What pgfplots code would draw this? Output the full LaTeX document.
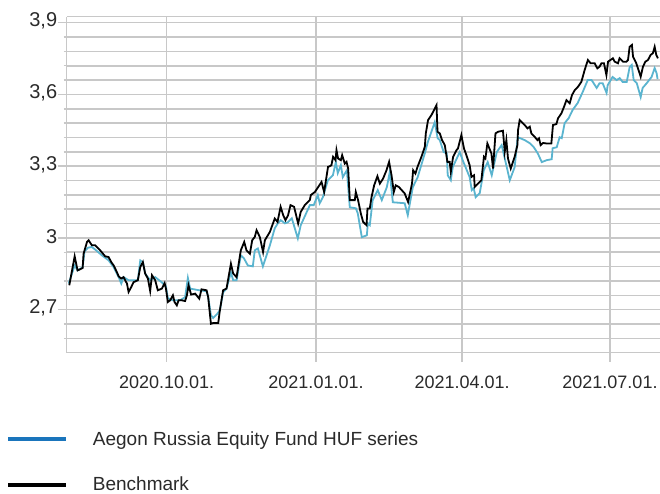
\documentclass[border=0pt]{standalone}
\usepackage{fontspec}
\setmainfont{Liberation Sans}
\usepackage{pgfplots}
\pgfplotsset{compat=1.18}
\definecolor{gridgray}{HTML}{C8C8C8}
\definecolor{fundblue}{HTML}{5AB4CF}
\definecolor{legblue}{HTML}{1A75BC}
\definecolor{txt}{HTML}{2A2A2A}
\begin{document}
\begin{tikzpicture}[x=1pt,y=1pt]
\useasboundingbox (-66.7,-141.3) rectangle (593.3,352.7);
\begin{axis}[
  at={(0,0)}, anchor=south west,
  scale only axis, width=593.3pt, height=336pt,
  xmin=-61.5, xmax=303.8, ymin=2.52, ymax=3.925,
  axis x line=box, axis y line=left,
  axis line style={draw=gridgray, line width=1.6pt, -},
  xtick pos=left, ytick pos=left,
  tick align=outside,
  major tick length=9pt, minor tick length=3pt,
  tick style={draw=gridgray, line width=1.5pt},
  xtick={0,92,182,273},
  xticklabels={2020.10.01.,2021.01.01.,2021.04.01.,2021.07.01.},
  ytick={2.7,3,3.3,3.6,3.9},
  minor ytick={2.58,2.64,2.76,2.82,2.88,2.94,3.06,3.12,3.18,3.24,3.36,3.42,3.48,3.54,3.66,3.72,3.78,3.84},
  xmajorgrids, ymajorgrids, yminorgrids,
  major grid style={draw=gridgray, line width=1.6pt},
  minor grid style={draw=gridgray, line width=1.6pt},
  /pgf/number format/.cd, use comma, fixed, assume math mode=true, /pgfplots/.cd,
  yticklabel style={font=\fontsize{20}{24}\selectfont, text=txt, xshift=3pt, yshift=1.5pt},
  xticklabel style={font=\fontsize{18}{22}\selectfont, text=txt, yshift=-11pt},
  legend image code/.code={\draw[#1] (0pt,0pt) -- (57.4pt,0pt);},
  legend cell align=left,
  legend style={at={(axis description cs:-0.1018,-0.2345)}, anchor=north west,
    draw=none, fill=none, inner sep=0pt, row sep=30pt,
    font=\fontsize{19}{23}\selectfont, text=txt,
    nodes={inner sep=0pt},
    /tikz/every odd column/.append style={column sep=25pt}},
]
\addlegendimage{legblue, line width=4pt}
\addlegendentry{Aegon Russia Equity Fund HUF series}
\addlegendimage{black, line width=4pt}
\addlegendentry{Benchmark}

\addplot[fundblue, line width=1.8pt, forget plot] coordinates {
(-60.3,2.809)(-56.6,2.885)(-54.8,2.864)(-51.7,2.877)(-50.5,2.944)(-48.4,2.959)
(-46.0,2.962)(-43.9,2.951)(-39.8,2.927)(-35.7,2.906)(-32.6,2.878)(-29.5,2.836)
(-27.9,2.809)(-26.5,2.836)(-23.4,2.823)(-17.7,2.823)(-16.2,2.906)(-14.6,2.899)
(-13.2,2.851)(-10.1,2.823)(-7.0,2.836)(-2.9,2.814)(-0.4,2.797)(0.8,2.748)
(3.9,2.739)(8.2,2.739)(11.4,2.752)(13.1,2.833)(14.5,2.788)(20.1,2.781)
(24.6,2.777)(25.6,2.753)(27.3,2.677)(28.7,2.665)(31.0,2.681)(32.8,2.697)
(34.8,2.772)(36.9,2.788)(39.6,2.856)(41.0,2.823)(43.1,2.823)(45.7,2.927)
(47.6,2.915)(50.0,2.885)(53.1,2.881)(54.3,2.948)(56.2,2.956)(59.3,2.881)
(63.6,2.969)(66.6,3.040)(68.5,3.061)(70.3,3.074)(72.8,3.061)(74.6,3.065)
(77.1,3.082)(80.8,2.998)(82.6,3.053)(88.2,3.137)(90.6,3.137)(93.1,3.179)
(94.3,3.145)(96.2,3.170)(99.3,3.241)(102.4,3.262)(104.2,3.317)(105.4,3.271)
(107.3,3.304)(108.5,3.254)(111.0,3.283)(112.8,3.128)(116.5,3.124)(117.7,3.103)
(120.2,3.003)(123.3,3.011)(123.9,3.061)(125.1,3.053)(126.9,3.158)(130.0,3.200)
(132.5,3.158)(135.6,3.212)(137.4,3.275)(139.3,3.149)(146.6,3.145)(148.5,3.095)
(151.6,3.212)(154.6,3.254)(159.0,3.354)(160.8,3.400)(165.1,3.484)(166.9,3.417)
(168.2,3.409)(170.6,3.359)(172.5,3.354)(173.1,3.262)(175.0,3.241)(176.2,3.296)
(180.5,3.359)(182.3,3.325)(186.6,3.254)(187.9,3.200)(189.1,3.208)(190.3,3.170)
(192.8,3.187)(195.3,3.283)(197.7,3.317)(200.2,3.262)(203.3,3.359)(206.3,3.388)
(208.2,3.333)(211.3,3.241)(214.3,3.296)(216.2,3.421)(220.5,3.409)(223.6,3.396)
(226.1,3.379)(228.5,3.354)(231.0,3.317)(234.0,3.325)(237.1,3.329)(237.7,3.375)
(240.2,3.379)(242.0,3.421)(243.3,3.417)(245.1,3.480)(247.6,3.501)(250.0,3.535)
(253.1,3.564)(256.2,3.610)(259.3,3.660)(261.7,3.660)(264.8,3.627)(266.6,3.647)
(268.5,3.647)(270.9,3.606)(271.6,3.639)(274.6,3.673)(277.1,3.660)(279.0,3.668)
(280.8,3.652)(283.3,3.652)(285.1,3.714)(286.4,3.723)(287.6,3.660)(289.5,3.647)
(291.9,3.589)(293.1,3.627)(295.6,3.647)(298.6,3.673)(300.5,3.710)(301.7,3.689)
(302.3,3.664)
};

\addplot[black, line width=1.8pt, forget plot] coordinates {
(-59.9,2.802)(-56.6,2.923)(-54.8,2.864)(-51.7,2.874)(-51.1,2.934)(-49.0,2.983)
(-48.0,2.990)(-46.0,2.969)(-43.9,2.969)(-40.9,2.948)(-37.8,2.923)(-35.7,2.920)
(-34.1,2.899)(-32.6,2.885)(-30.6,2.857)(-29.5,2.839)(-27.9,2.830)(-26.5,2.836)
(-24.4,2.809)(-23.4,2.774)(-21.8,2.794)(-20.3,2.815)(-17.7,2.823)(-16.2,2.878)
(-14.6,2.899)(-13.2,2.851)(-11.5,2.830)(-10.1,2.778)(-9.0,2.844)(-7.0,2.823)
(-5.4,2.781)(-2.9,2.788)(-1.2,2.811)(-0.4,2.788)(0.8,2.732)(2.2,2.739)
(3.9,2.760)(4.9,2.732)(6.3,2.718)(7.4,2.739)(9.4,2.739)(11.4,2.736)
(12.5,2.760)(13.5,2.802)(15.1,2.763)(17.6,2.767)(20.1,2.746)(21.5,2.785)
(24.6,2.781)(25.6,2.753)(27.3,2.641)(28.7,2.644)(31.8,2.644)(32.8,2.697)
(34.8,2.781)(36.9,2.788)(39.6,2.892)(41.0,2.851)(43.1,2.836)(45.7,2.948)
(47.8,2.983)(49.2,2.948)(51.3,2.934)(52.7,2.990)(54.3,3.004)(55.4,3.032)
(57.4,3.004)(59.4,2.941)(60.5,2.990)(63.6,3.025)(66.6,3.081)(68.3,3.067)
(70.2,3.130)(71.8,3.095)(73.2,3.074)(74.8,3.095)(76.3,3.137)(78.5,3.130)
(81.0,3.060)(82.6,3.109)(85.1,3.137)(88.2,3.158)(88.8,3.179)(91.3,3.192)
(95.4,3.234)(97.0,3.192)(99.4,3.297)(100.5,3.300)(101.5,3.304)(102.5,3.339)
(104.0,3.325)(104.6,3.367)(105.6,3.332)(107.3,3.325)(108.1,3.346)(109.7,3.311)
(110.8,3.318)(111.8,3.290)(112.8,3.158)(115.9,3.158)(116.5,3.192)(117.9,3.158)
(119.6,3.102)(121.0,3.067)(123.1,3.053)(123.7,3.123)(125.1,3.123)(126.2,3.171)
(127.8,3.220)(129.8,3.258)(131.3,3.227)(133.3,3.248)(135.4,3.283)(137.0,3.318)
(138.5,3.262)(139.9,3.192)(141.1,3.220)(143.0,3.213)(146.6,3.186)(148.7,3.150)
(151.1,3.227)(151.8,3.283)(153.2,3.269)(154.5,3.297)(156.9,3.339)(159.0,3.381)
(159.6,3.437)(161.0,3.493)(163.1,3.514)(166.2,3.555)(166.8,3.444)(168.2,3.437)
(169.6,3.409)(171.3,3.388)(172.9,3.318)(174.3,3.318)(175.0,3.276)(176.4,3.339)
(178.5,3.367)(179.4,3.374)(181.5,3.430)(183.1,3.374)(184.6,3.346)(186.6,3.304)
(187.7,3.255)(189.3,3.262)(189.7,3.213)(191.8,3.227)(193.8,3.241)(195.4,3.339)
(196.3,3.332)(197.5,3.395)(200.0,3.353)(201.0,3.290)(202.5,3.437)(204.1,3.444)
(207.1,3.448)(208.2,3.360)(209.2,3.409)(210.2,3.332)(211.9,3.290)(214.3,3.339)
(216.0,3.388)(216.4,3.451)(217.4,3.493)(220.5,3.472)(222.2,3.458)(223.6,3.465)
(224.6,3.437)(226.6,3.423)(228.3,3.409)(229.3,3.416)(230.3,3.388)(231.8,3.397)
(233.8,3.395)(236.9,3.395)(237.9,3.472)(240.0,3.476)(241.0,3.500)(243.1,3.521)
(244.7,3.548)(246.2,3.576)(248.2,3.563)(249.6,3.597)(251.3,3.618)(253.3,3.632)
(255.4,3.653)(257.4,3.702)(259.4,3.744)(261.1,3.730)(263.6,3.730)(265.2,3.709)
(266.6,3.716)(267.7,3.730)(269.3,3.730)(270.8,3.681)(271.8,3.737)(274.8,3.751)
(275.9,3.737)(277.9,3.730)(278.9,3.751)(281.0,3.737)(283.1,3.737)(284.1,3.744)
(285.1,3.799)(286.5,3.807)(287.2,3.758)(289.2,3.730)(291.9,3.674)(293.3,3.716)
(294.8,3.737)(296.4,3.744)(298.0,3.765)(299.4,3.772)(300.5,3.799)(301.5,3.765)
(302.5,3.751)
};
\end{axis}
\end{tikzpicture}
\end{document}
